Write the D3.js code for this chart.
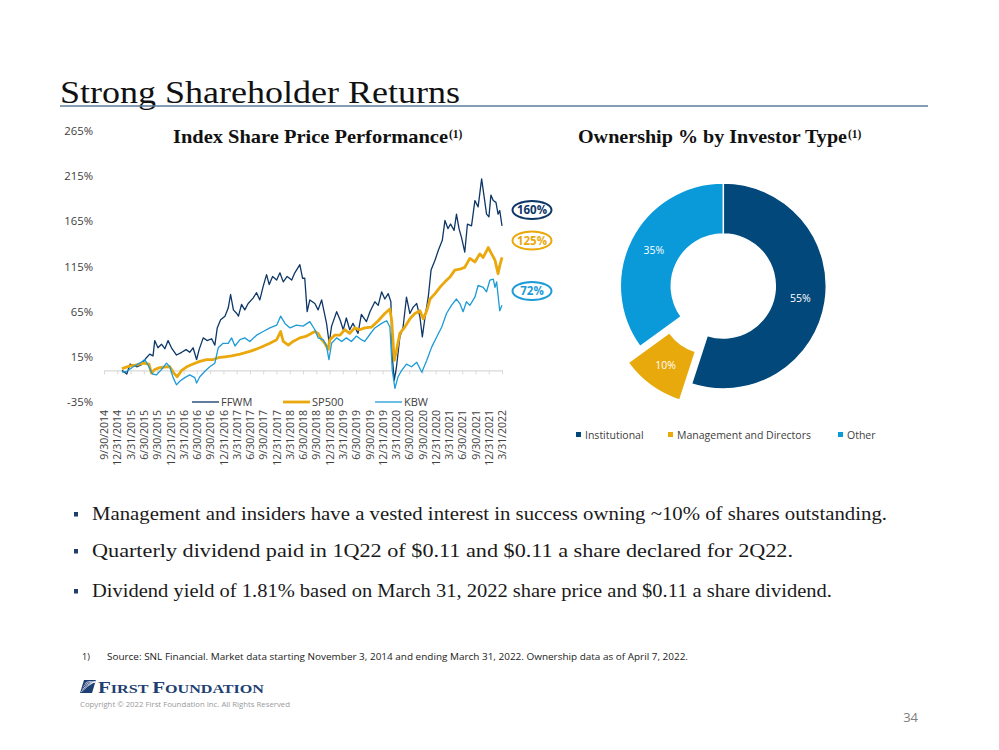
<!DOCTYPE html>
<html><head><meta charset="utf-8">
<script src="https://cdn.jsdelivr.net/npm/d3@7"></script>
<style>body{margin:0;background:#fff}svg{display:block}</style>
</head><body>
<svg id="c" width="999" height="750"></svg>
<script>
// ---------------- DATA ----------------
const yTicks = [-35, 15, 65, 115, 165, 215, 265];
const xLabels = ["9/30/2014","12/31/2014","3/31/2015","6/30/2015","9/30/2015","12/31/2015","3/31/2016","6/30/2016","9/30/2016","12/31/2016","3/31/2017","6/30/2017","9/30/2017","12/31/2017","3/31/2018","6/30/2018","9/30/2018","12/31/2018","3/31/2019","6/30/2019","9/30/2019","12/31/2019","3/31/2020","6/30/2020","9/30/2020","12/31/2020","3/31/2021","6/30/2021","9/30/2021","12/31/2021","3/31/2022"];
const seriesNames = ["FFWM","SP500","KBW"];
const ffwm = [["2014-11-03",0],["2014-12-07",-4],["2014-12-31",7],["2015-02-15",4],["2015-03-20",6],["2015-04-26",14],["2015-05-19",18],["2015-06-12",16],["2015-06-24",33],["2015-07-17",25],["2015-08-11",29],["2015-09-04",24],["2015-09-27",33],["2015-10-21",25],["2015-11-26",17],["2016-01-02",20],["2016-02-02",23],["2016-02-28",20],["2016-03-23",25],["2016-04-17",12],["2016-05-05",23],["2016-06-03",36],["2016-07-01",33],["2016-08-02",35],["2016-08-25",28],["2016-09-11",47],["2016-10-05",56],["2016-11-05",60],["2016-11-28",69],["2016-12-15",84],["2017-01-04",67],["2017-01-28",63],["2017-02-09",60],["2017-03-03",73],["2017-03-26",67],["2017-04-19",74],["2017-05-24",80],["2017-06-18",86],["2017-07-11",78],["2017-08-04",93],["2017-08-28",106],["2017-09-16",95],["2017-10-10",104],["2017-11-08",100],["2017-12-01",108],["2017-12-25",98],["2018-01-22",104],["2018-02-23",100],["2018-03-17",108],["2018-04-22",117],["2018-05-11",102],["2018-05-27",102],["2018-06-13",65],["2018-07-02",78],["2018-08-07",74],["2018-08-30",67],["2018-09-24",78],["2018-10-29",52],["2018-11-17",30],["2018-12-04",49],["2019-01-09",65],["2019-02-02",56],["2019-02-25",45],["2019-03-19",58],["2019-04-12",45],["2019-05-05",52],["2019-06-10",41],["2019-07-04",62],["2019-08-09",54],["2019-09-03",65],["2019-10-08",76],["2019-11-01",72],["2019-11-25",87],["2019-12-18",79],["2020-01-11",85],["2020-01-30",76],["2020-02-09",15],["2020-02-23",-11],["2020-03-10",4],["2020-04-03",37],["2020-04-26",48],["2020-05-20",81],["2020-06-13",63],["2020-07-07",70],["2020-08-01",74],["2020-08-24",59],["2020-09-10",37],["2020-09-29",59],["2020-10-22",81],["2020-11-11",111],["2020-12-09",122],["2021-01-02",133],["2021-01-30",144],["2021-02-18",166],["2021-03-11",157],["2021-03-30",162],["2021-04-24",155],["2021-05-11",173],["2021-05-29",157],["2021-06-16",147],["2021-07-09",131],["2021-07-28",162],["2021-08-26",160],["2021-09-19",188],["2021-10-12",181],["2021-11-06",212],["2021-11-24",192],["2021-12-11",173],["2021-12-28",170],["2022-01-11",194],["2022-01-28",188],["2022-02-16",186],["2022-03-03",173],["2022-03-15",177],["2022-03-31",160]];
const sp500 = [["2014-11-03",2],["2014-12-31",5],["2015-02-15",6],["2015-04-03",8],["2015-05-14",7],["2015-05-31",-3],["2015-06-24",1],["2015-07-29",3],["2015-09-16",4],["2015-10-09",4],["2015-11-07",-3],["2015-12-01",-7],["2016-01-02",0],["2016-02-07",4],["2016-03-23",7],["2016-05-10",10],["2016-06-27",12],["2016-08-13",12],["2016-09-18",14],["2016-11-05",15],["2016-12-22",16],["2017-02-20",18],["2017-05-01",21],["2017-07-11",25],["2017-09-21",30],["2017-11-08",34],["2017-12-06",43],["2017-12-25",32],["2018-01-30",28],["2018-03-05",32],["2018-04-22",36],["2018-06-09",38],["2018-08-07",43],["2018-08-30",41],["2018-09-24",34],["2018-10-17",30],["2018-11-10",23],["2018-11-22",34],["2018-12-27",39],["2019-02-02",39],["2019-03-07",45],["2019-04-12",41],["2019-05-17",47],["2019-06-22",45],["2019-07-28",47],["2019-09-15",48],["2019-11-01",55],["2019-12-18",63],["2020-01-23",68],["2020-02-05",55],["2020-02-23",11],["2020-03-10",22],["2020-04-03",41],["2020-05-08",48],["2020-06-13",57],["2020-07-19",63],["2020-08-24",66],["2020-09-17",57],["2020-10-11",66],["2020-11-04",79],["2020-12-09",85],["2021-01-13",92],["2021-02-18",98],["2021-03-24",103],["2021-04-29",111],["2021-06-04",112],["2021-07-09",114],["2021-08-14",124],["2021-09-19",120],["2021-10-24",129],["2021-11-17",125],["2021-12-23",136],["2022-01-16",129],["2022-02-09",122],["2022-03-03",107],["2022-03-15",116],["2022-03-31",125]];
const kbw = [["2014-11-03",-2],["2014-12-07",-1],["2015-01-22",4],["2015-03-09",8],["2015-04-14",12],["2015-05-07",6],["2015-06-08",-4],["2015-07-06",-5],["2015-08-11",1],["2015-09-16",8],["2015-10-09",4],["2015-11-02",-8],["2015-11-26",-16],["2015-12-19",-12],["2016-01-24",-8],["2016-02-28",-5],["2016-04-04",-8],["2016-04-17",-14],["2016-05-10",-7],["2016-06-15",-1],["2016-07-20",4],["2016-08-25",8],["2016-09-18",25],["2016-10-23",30],["2016-11-28",30],["2016-12-22",36],["2017-01-15",27],["2017-02-20",34],["2017-03-26",36],["2017-05-01",32],["2017-06-18",39],["2017-08-04",43],["2017-09-21",47],["2017-11-08",50],["2017-12-06",60],["2018-01-06",52],["2018-02-11",47],["2018-03-28",50],["2018-05-15",49],["2018-07-02",54],["2018-08-07",45],["2018-08-30",36],["2018-10-05",34],["2018-10-29",27],["2018-11-15",12],["2018-12-04",30],["2019-01-09",36],["2019-02-14",32],["2019-03-19",36],["2019-04-24",32],["2019-05-30",38],["2019-07-04",34],["2019-07-28",32],["2019-09-03",40],["2019-10-08",47],["2019-11-25",52],["2019-12-31",55],["2020-01-23",48],["2020-02-09",0],["2020-02-28",-20],["2020-03-21",-7],["2020-04-16",0],["2020-05-20",7],["2020-06-25",4],["2020-08-01",9],["2020-09-06",-2],["2020-10-11",11],["2020-11-16",26],["2020-12-21",37],["2021-01-26",48],["2021-03-01",63],["2021-04-05",72],["2021-05-11",79],["2021-06-04",74],["2021-06-27",65],["2021-07-21",76],["2021-08-14",72],["2021-09-19",81],["2021-10-12",94],["2021-11-17",92],["2021-12-11",87],["2022-01-04",100],["2022-01-28",101],["2022-02-09",92],["2022-02-21",98],["2022-03-03",83],["2022-03-15",66],["2022-03-31",72]];
const endLabels = ["160%","125%","72%"];
const ownCategories = ["Institutional","Management and Directors","Other"];
const ownValues = [55, 10, 35];
const bullets = [
 "Management and insiders have a vested interest in success owning ~10% of shares outstanding.",
 "Quarterly dividend paid in 1Q22 of $0.11 and $0.11 a share declared for 2Q22.",
 "Dividend yield of 1.81% based on March 31, 2022 share price and $0.11 a share dividend."
];

// ---------------- STYLE ----------------
const lineColors = ["#0e3767","#eaa80d","#1c9bd7"];
const lineWidths = [1.3, 2.8, 1.3];
const pieColors = ["#03487a","#e8a90c","#0a9ad9"];
const sans = "'Open Sans', 'DejaVu Sans', sans-serif";
const serif = "'Liberation Serif', 'DejaVu Serif', serif";
const txt = "#404040";

const svg = d3.select("#c");
const parse = d3.timeParse("%Y-%m-%d");

// Page title
svg.append("text").attr("x",60).attr("y",103).attr("font-family",serif).attr("font-size",31)
  .attr("fill","#111").attr("textLength",400).attr("lengthAdjust","spacingAndGlyphs")
  .text("Strong Shareholder Returns");
svg.append("line").attr("x1",60).attr("x2",928).attr("y1",106).attr("y2",106)
  .attr("stroke","#5b7d9c").attr("stroke-width",1.5);

// ---------------- LINE CHART ----------------
const x = d3.scaleTime().domain([parse("2014-11-03"), parse("2022-03-31")]).range([122, 502]);
const y = d3.scaleLinear().domain([-35, 265]).range([402, 131]);
const xCat = d3.scalePoint().domain(xLabels).range([104, 502]);

function title(xp, str, len){
  const t = svg.append("text").attr("x",xp).attr("y",143).attr("font-family",serif)
    .attr("font-weight","bold").attr("font-size",19).attr("fill","#111");
  t.append("tspan").attr("textLength",len).attr("lengthAdjust","spacingAndGlyphs").text(str);
  t.append("tspan").attr("font-size",11.5).attr("dy",-5).attr("dx",1).text("(1)");
}
title(173, "Index Share Price Performance", 275);
title(578, "Ownership % by Investor Type", 269);

// y axis
const gy = svg.append("g").attr("transform","translate(93,0)")
  .call(d3.axisLeft(y).tickValues(yTicks).tickSize(0).tickPadding(0).tickFormat(d=>d+"%"));
gy.select(".domain").remove();
gy.selectAll("text").attr("font-family",sans).attr("font-size",11.3).attr("fill",txt);

// x axis at 0%
const gx = svg.append("g").attr("transform",`translate(0,${y(0)})`)
  .call(d3.axisBottom(xCat).tickSize(4).tickSizeOuter(0));
gx.select(".domain").attr("stroke","#d9d9d9").attr("stroke-width",1.2);
gx.selectAll(".tick line").attr("stroke","#d9d9d9");
gx.selectAll(".tick text").attr("transform","rotate(-90)").attr("x",-(410-y(0))).attr("y",0)
  .attr("dy","0.35em").attr("text-anchor","end")
  .attr("font-family",sans).attr("font-size",10.5).attr("fill",txt);

// lines
const lineGen = d3.line().x(d=>x(parse(d[0]))).y(d=>y(d[1])).curve(d3.curveLinear);
[ffwm, sp500, kbw].forEach((s,i)=>{
  svg.append("path").datum(s).attr("d",lineGen).attr("fill","none")
    .attr("stroke",lineColors[i]).attr("stroke-width",lineWidths[i]).attr("stroke-linejoin","round");
});

// legend
const legX = [192, 283, 375];
seriesNames.forEach((n,i)=>{
  svg.append("line").attr("x1",legX[i]).attr("x2",legX[i]+27).attr("y1",402).attr("y2",402)
    .attr("stroke",lineColors[i]).attr("stroke-width",lineWidths[i]);
  svg.append("text").attr("x",legX[i]+29).attr("y",402).attr("dy","0.35em")
    .attr("font-family",sans).attr("font-size",11).attr("fill",txt).text(n);
});

// end callouts
const calloutY = [210, 240.5, 291];
endLabels.forEach((l,i)=>{
  svg.append("ellipse").attr("cx",532).attr("cy",calloutY[i]).attr("rx",19.5).attr("ry",9)
    .attr("fill","#fff").attr("stroke",lineColors[i]).attr("stroke-width",2);
  svg.append("text").attr("x",532).attr("y",calloutY[i]).attr("dy","0.36em").attr("text-anchor","middle")
    .attr("font-family",sans).attr("font-weight",700).attr("font-size",11.5).attr("fill",lineColors[i]).text(l);
});

// ---------------- DONUT ----------------
const cx = 723.3, cy = 286;
const pie = d3.pie().sort(null).value(d=>d)(ownValues);
const arc = d3.arc().innerRadius(52).outerRadius(103);
const labArc = d3.arc().innerRadius(78).outerRadius(78);
const gp = svg.append("g").attr("transform",`translate(${cx},${cy})`);
pie.forEach((p,i)=>{
  const mid = (p.startAngle+p.endAngle)/2;
  const off = i===1 ? 20 : 0;
  const dx = off*Math.sin(mid), dy = -off*Math.cos(mid);
  const g = gp.append("g").attr("transform",`translate(${dx},${dy})`);
  g.append("path").attr("d",arc(p)).attr("fill",pieColors[i]).attr("stroke","#fff").attr("stroke-width",1.5);
  const c = labArc.centroid(p);
  g.append("text").attr("x",c[0]).attr("y",c[1]).attr("dy","0.35em").attr("text-anchor","middle")
    .attr("font-family",sans).attr("font-size",10.5).attr("fill","#fff").text(ownValues[i]+"%");
});
// donut legend
const plegX = [576, 668, 838];
ownCategories.forEach((n,i)=>{
  svg.append("rect").attr("x",plegX[i]).attr("y",432).attr("width",5).attr("height",5).attr("fill",pieColors[i]);
  svg.append("text").attr("x",plegX[i]+9).attr("y",435).attr("dy","0.35em")
    .attr("font-family",sans).attr("font-size",10.5).attr("fill",txt).text(n);
});

// ---------------- BULLETS ----------------
const bulletY = [520, 557, 597];
const bulletLen = [795, 701, 740];
bullets.forEach((b,i)=>{
  svg.append("rect").attr("x",74).attr("y",bulletY[i]-8).attr("width",4).attr("height",4.5).attr("fill","#1f3f6a");
  svg.append("text").attr("x",92).attr("y",bulletY[i]).attr("font-family",serif).attr("font-size",18.5)
    .attr("fill","#1a1a1a").attr("textLength",bulletLen[i]).attr("lengthAdjust","spacingAndGlyphs").text(b);
});

// ---------------- FOOTER ----------------
svg.append("text").attr("x",82).attr("y",660).attr("font-family",sans).attr("font-size",9).attr("fill","#222").text("1)");
svg.append("text").attr("x",107).attr("y",660).attr("font-family",sans).attr("font-size",9).attr("fill","#222")
  .attr("textLength",581).attr("lengthAdjust","spacingAndGlyphs")
  .text("Source: SNL Financial.  Market data starting November 3, 2014 and ending March 31, 2022. Ownership data as of April 7, 2022.");

// logo
const logo = svg.append("g");
logo.append("path").attr("d","M84,680 L96,680 L92,693 L80,693 Z").attr("fill","#1e3f73");
[0,1,2,3].forEach(k=>{
  logo.append("path").attr("d",`M${81+k*1.2},${692-k*2.6} Q${87},${686-k*2} ${95.5},${681+k*0.5}`)
    .attr("fill","none").attr("stroke","#fff").attr("stroke-width",0.7);
});
const lt = logo.append("text").attr("x",98).attr("y",693).attr("font-family",serif).attr("font-weight","bold")
  .attr("fill","#1e3f73").attr("textLength",166).attr("lengthAdjust","spacingAndGlyphs");
lt.append("tspan").attr("font-size",17).text("F");
lt.append("tspan").attr("font-size",13).text("IRST ");
lt.append("tspan").attr("font-size",17).text("F");
lt.append("tspan").attr("font-size",13).text("OUNDATION");
svg.append("text").attr("x",80).attr("y",707).attr("font-family",sans).attr("font-size",7).attr("fill","#9a9a9a")
  .attr("textLength",210).attr("lengthAdjust","spacingAndGlyphs")
  .text("Copyright © 2022 First Foundation Inc. All Rights Reserved");
svg.append("text").attr("x",918).attr("y",722).attr("text-anchor","end").attr("font-family",sans)
  .attr("font-size",13).attr("fill","#808080").text("34");
</script>
</body></html>
